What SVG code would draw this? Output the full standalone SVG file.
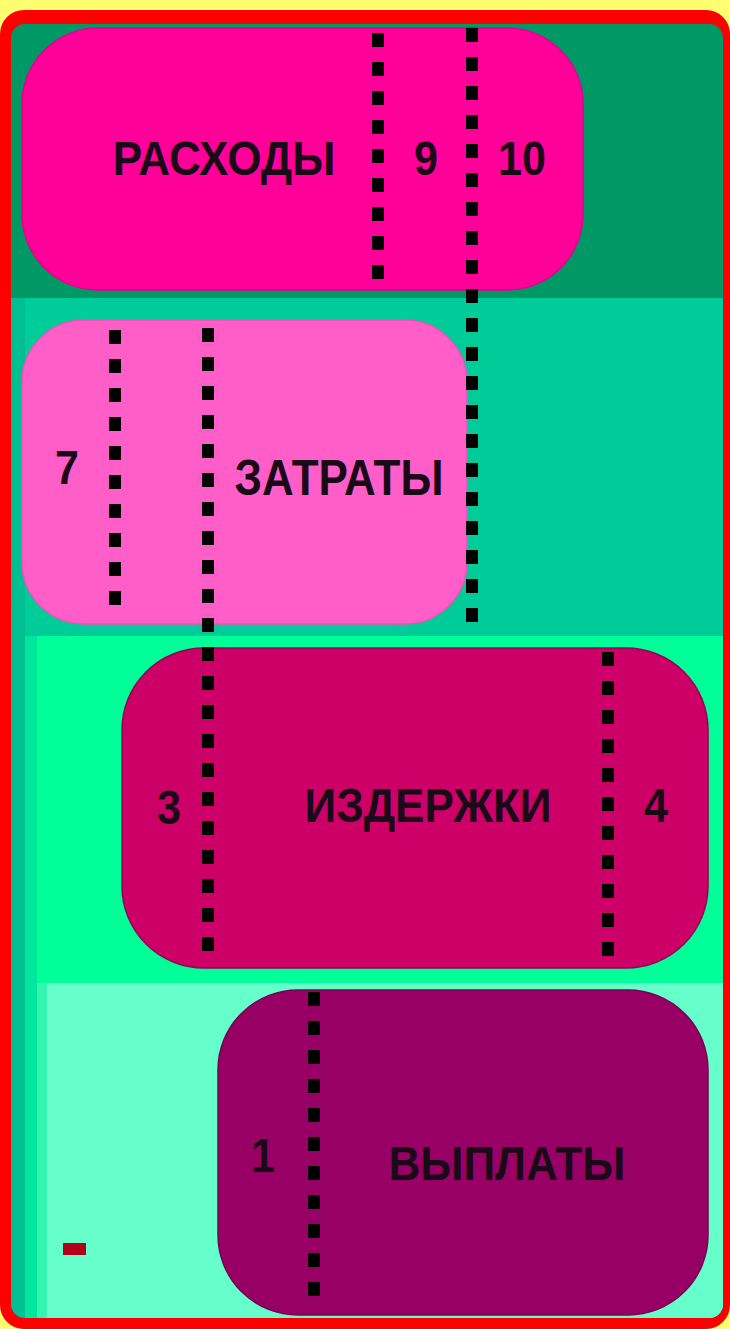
<svg xmlns="http://www.w3.org/2000/svg" width="730" height="1329" viewBox="0 0 730 1329">
  <defs>
    <style>
      .lbl { font-family: "Liberation Sans", Arial, sans-serif; font-weight: bold; font-size: 44px; fill: #1a0a18; text-anchor: middle; }
      .num { font-family: "Liberation Sans", Arial, sans-serif; font-weight: bold; font-size: 43px; fill: #1a0a18; text-anchor: middle; }
      .dots { stroke: #000000; stroke-width: 12; stroke-dasharray: 14 15; fill: none; }
      .pill { stroke-width: 1.5; }
    </style>
    <clipPath id="inner">
      <rect x="11" y="24" width="712" height="1294" rx="14"/>
    </clipPath>
  </defs>

  <g id="frame">
    <rect x="0" y="0" width="730" height="1329" fill="#FFFF70"/>
    <rect x="0" y="10" width="730" height="1319" rx="24" fill="#FF0000"/>
    <g clip-path="url(#inner)">
      <rect x="11" y="24" width="712" height="1294" fill="#009966"/>
      <rect x="11" y="298" width="712" height="1020" fill="#00BF93"/>
      <rect x="25" y="298" width="698" height="338" fill="#00CC99"/>
      <rect x="25" y="636" width="698" height="682" fill="#00E69C"/>
      <rect x="37" y="636" width="686" height="347" fill="#00FF99"/>
      <rect x="37" y="983" width="686" height="335" fill="#33F5B0"/>
      <rect x="47" y="983" width="676" height="335" fill="#66FFCC"/>
    </g>
    <rect x="63" y="1243" width="23" height="12" fill="#B3001A"/>
  </g>

  <g id="node-rashody">
    <rect class="pill" x="22" y="28" width="561" height="262" rx="76" fill="#FF0099" stroke="#E0008A"/>
    <text class="lbl" transform="translate(224,175) scale(1,1.1)">РАСХОДЫ</text>
    <text class="num" transform="translate(426,175) scale(1,1.1)">9</text>
    <text class="num" transform="translate(522,175) scale(1,1.1)">10</text>
  </g>

  <g id="node-zatraty">
    <rect class="pill" x="22" y="320" width="445" height="304" rx="62" fill="#FF5EC8" stroke="#F050B8"/>
    <text class="lbl" transform="translate(339,495) scale(1,1.12)">ЗАТРАТЫ</text>
    <text class="num" transform="translate(67,484) scale(1,1.1)">7</text>
  </g>

  <g id="node-izderzhki">
    <rect class="pill" x="122" y="648" width="586" height="320" rx="82" fill="#CC0066" stroke="#990050"/>
    <text class="lbl" transform="translate(428,822) scale(1,1.1)">ИЗДЕРЖКИ</text>
    <text class="num" transform="translate(169,824) scale(1,1.1)">3</text>
    <text class="num" transform="translate(656,822) scale(1,1.1)">4</text>
  </g>

  <g id="node-vyplaty">
    <rect class="pill" x="218" y="990" width="490" height="325" rx="80" fill="#990066" stroke="#770050"/>
    <text class="lbl" transform="translate(507,1180) scale(1,1.1)">ВЫПЛАТЫ</text>
    <text class="num" transform="translate(263,1172) scale(1,1.1)">1</text>
  </g>

  <g id="connectors">
    <line class="dots" x1="378" y1="33" x2="378" y2="290"/>
    <line class="dots" x1="472" y1="28" x2="472" y2="622"/>
    <line class="dots" x1="115" y1="330" x2="115" y2="620"/>
    <line class="dots" x1="208" y1="328" x2="208" y2="958"/>
    <line class="dots" x1="608" y1="652" x2="608" y2="967"/>
    <line class="dots" x1="314" y1="992" x2="314" y2="1306"/>
  </g>
</svg>
